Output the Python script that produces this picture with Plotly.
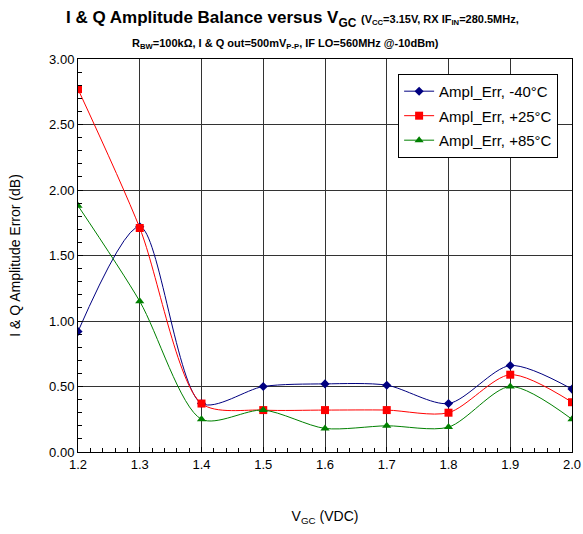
import plotly.graph_objects as go

vgc = [1.2, 1.3, 1.4, 1.5, 1.6, 1.7, 1.8, 1.9, 2.0]
err_m40 = [0.92, 1.72, 0.37, 0.50, 0.52, 0.51, 0.37, 0.66, 0.48]
err_p25 = [2.77, 1.71, 0.37, 0.32, 0.32, 0.32, 0.30, 0.59, 0.38]
err_p85 = [1.88, 1.15, 0.25, 0.32, 0.18, 0.20, 0.19, 0.50, 0.25]
names = ["Ampl_Err, -40°C", "Ampl_Err, +25°C", "Ampl_Err, +85°C"]
colors = ["#000080", "#FF0000", "#008000"]
symbols = ["diamond", "square", "triangle-up"]
sizes = [7, 8, 8]

fig = go.Figure()
for i, (ys, n, c, s, sz) in enumerate(zip([err_m40, err_p25, err_p85], names, colors, symbols, sizes)):
    fig.add_trace(go.Scatter(
        x=vgc, y=ys, name=n, mode="lines+markers", legendgroup=f"g{i}",
        line=dict(color=c, width=1, shape="spline", smoothing=0.8),
        marker=dict(symbol=s, size=sz, color=c),
    ))

font = "Liberation Sans, Arial, sans-serif"
fig.update_layout(
    width=583, height=534,
    margin=dict(l=78, r=11, t=59, b=82),
    paper_bgcolor="white", plot_bgcolor="white",
    font=dict(family=font, size=13, color="black"),
    showlegend=True,
    legend=dict(x=0.648, y=0.962, xanchor="left", yanchor="top",
                bgcolor="white", bordercolor="black", borderwidth=1,
                font=dict(size=15), traceorder="grouped", tracegroupgap=2,
                itemwidth=30),
    xaxis=dict(range=[1.2, 2.0], dtick=0.1, tickformat=".1f", automargin=False,
               showgrid=True, gridcolor="#333", gridwidth=1,
               showline=True, linecolor="black", linewidth=1, mirror=True,
               ticks="inside", ticklen=5, tickcolor="black",
               minor=dict(dtick=0.02, ticks="inside", ticklen=4, tickcolor="black", showgrid=False),
               title=dict(text="V<sub>GC</sub> (VDC)", font=dict(size=14), standoff=40),
               zeroline=False),
    yaxis=dict(range=[0, 3.0], dtick=0.5, tickformat=".2f", automargin=False,
               showgrid=True, gridcolor="#333", gridwidth=1,
               showline=True, linecolor="black", linewidth=1, mirror=True,
               ticks="inside", ticklen=5, tickcolor="black",
               minor=dict(dtick=0.1, ticks="inside", ticklen=4, tickcolor="black", showgrid=False),
               title=dict(text="I & Q Amplitude Error (dB)", font=dict(size=14), standoff=25),
               zeroline=False),
)
fig.add_annotation(
    xref="paper", yref="paper", x=0.435, y=1.0, yshift=40, xanchor="center", yanchor="middle",
    showarrow=False,
    text="<b>I & Q Amplitude Balance versus V<sub>GC</sub> <span style='font-size:11px'>(V<sub>CC</sub>=3.15V, RX IF<sub>IN</sub>=280.5MHz,</span></b>",
    font=dict(size=17, family=font),
)
fig.add_annotation(
    xref="paper", yref="paper", x=0.42, y=1.0, yshift=15, xanchor="center", yanchor="middle",
    showarrow=False,
    text="<b>R<sub>BW</sub>=100kΩ, I & Q out=500mV<sub>P-P</sub>, IF LO=560MHz @-10dBm)</b>",
    font=dict(size=11, family=font),
)
fig.write_html("out.html")
